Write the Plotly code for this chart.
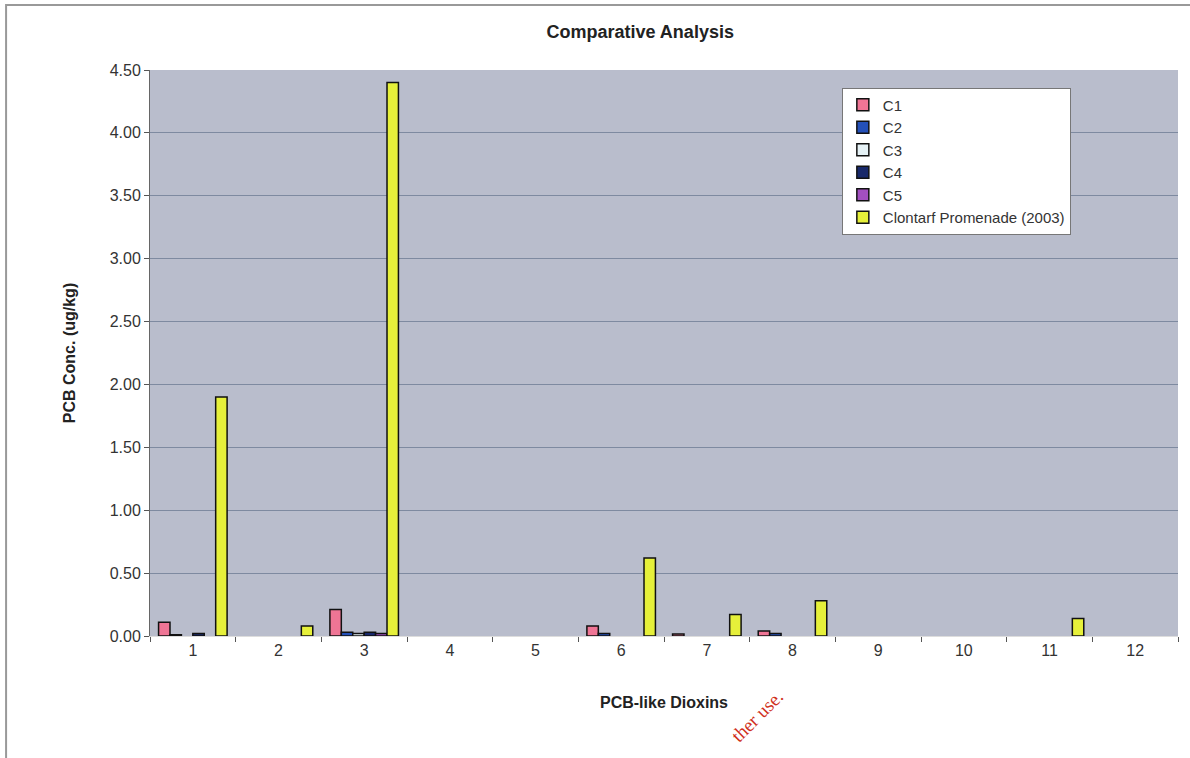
import plotly.graph_objects as go

categories = ["1", "2", "3", "4", "5", "6", "7", "8", "9", "10", "11", "12"]
c1 = [0.11, None, 0.21, None, None, 0.08, 0.015, 0.04, None, None, None, None]
c2 = [0.01, None, 0.03, None, None, 0.02, None, 0.02, None, None, None, None]
c3 = [None, None, 0.02, None, None, None, None, None, None, None, None, None]
c4 = [0.02, None, 0.03, None, None, None, None, None, None, None, None, None]
c5 = [None, None, 0.02, None, None, None, None, None, None, None, None, None]
clontarf = [1.90, 0.08, 4.40, None, None, 0.62, 0.17, 0.28, None, None, 0.14, None]

series_names = ["C1", "C2", "C3", "C4", "C5", "Clontarf Promenade (2003)"]
series_values = [c1, c2, c3, c4, c5, clontarf]
series_colors = ["#ef7595", "#2450b8", "#e6f2f6", "#18286a", "#a24fc0", "#e6f03a"]
y_ticks = [0, 0.5, 1.0, 1.5, 2.0, 2.5, 3.0, 3.5, 4.0, 4.5]

fig = go.Figure()
for name, vals, col in zip(series_names, series_values, series_colors):
    fig.add_trace(go.Bar(
        x=categories, y=vals, name=name,
        marker=dict(color=col, line=dict(color="#111111", width=1.5)),
    ))

font = "Liberation Sans, Arial, sans-serif"
fig.update_layout(
    width=1190, height=758,
    margin=dict(l=150, r=12, t=70, b=122),
    paper_bgcolor="white",
    plot_bgcolor="#b9bdcc",
    barmode="group",
    bargap=0.2,
    bargroupgap=0,
    font=dict(family=font, size=16, color="#333333"),
    title=dict(text="<b>Comparative Analysis</b>", x=0.538, xanchor="center",
               y=0.958, yanchor="middle", font=dict(size=18, color="#222222")),
    showlegend=True,
    legend=dict(x=0.673, y=0.969, xanchor="left", yanchor="top",
                bgcolor="white", bordercolor="#777777", borderwidth=1,
                font=dict(size=15), itemwidth=30, tracegroupgap=0),
    xaxis=dict(
        type="category", tickson="boundaries", ticks="outside", ticklen=5,
        tickcolor="#555555", showline=True, linecolor="#dddddd",
        showgrid=False,
        title=dict(text="<b>PCB-like Dioxins</b>", font=dict(size=16, color="#222222"), standoff=38),
    ),
    yaxis=dict(
        range=[0, 4.5], tickvals=y_ticks, tickformat=".2f",
        ticks="outside", ticklen=5, tickcolor="#555555",
        showline=True, linecolor="#666666",
        gridcolor="#7e8aa0", gridwidth=1,
        zeroline=False,
        title=dict(text="<b>PCB Conc. (ug/kg)</b>", font=dict(size=16, color="#222222"), standoff=30),
    ),
)

fig.add_shape(type="rect", xref="paper", yref="paper",
              x0=-0.14, x1=1.02, y0=-0.22, y1=1.115,
              line=dict(color="#999999", width=2), fillcolor="rgba(0,0,0,0)")

fig.add_annotation(text="ther use.", xref="paper", yref="paper",
                   x=0.59, y=-0.2, showarrow=False, textangle=-45,
                   font=dict(family="Liberation Serif, serif", size=19, color="#d03020"))

fig.write_html("out.html")
